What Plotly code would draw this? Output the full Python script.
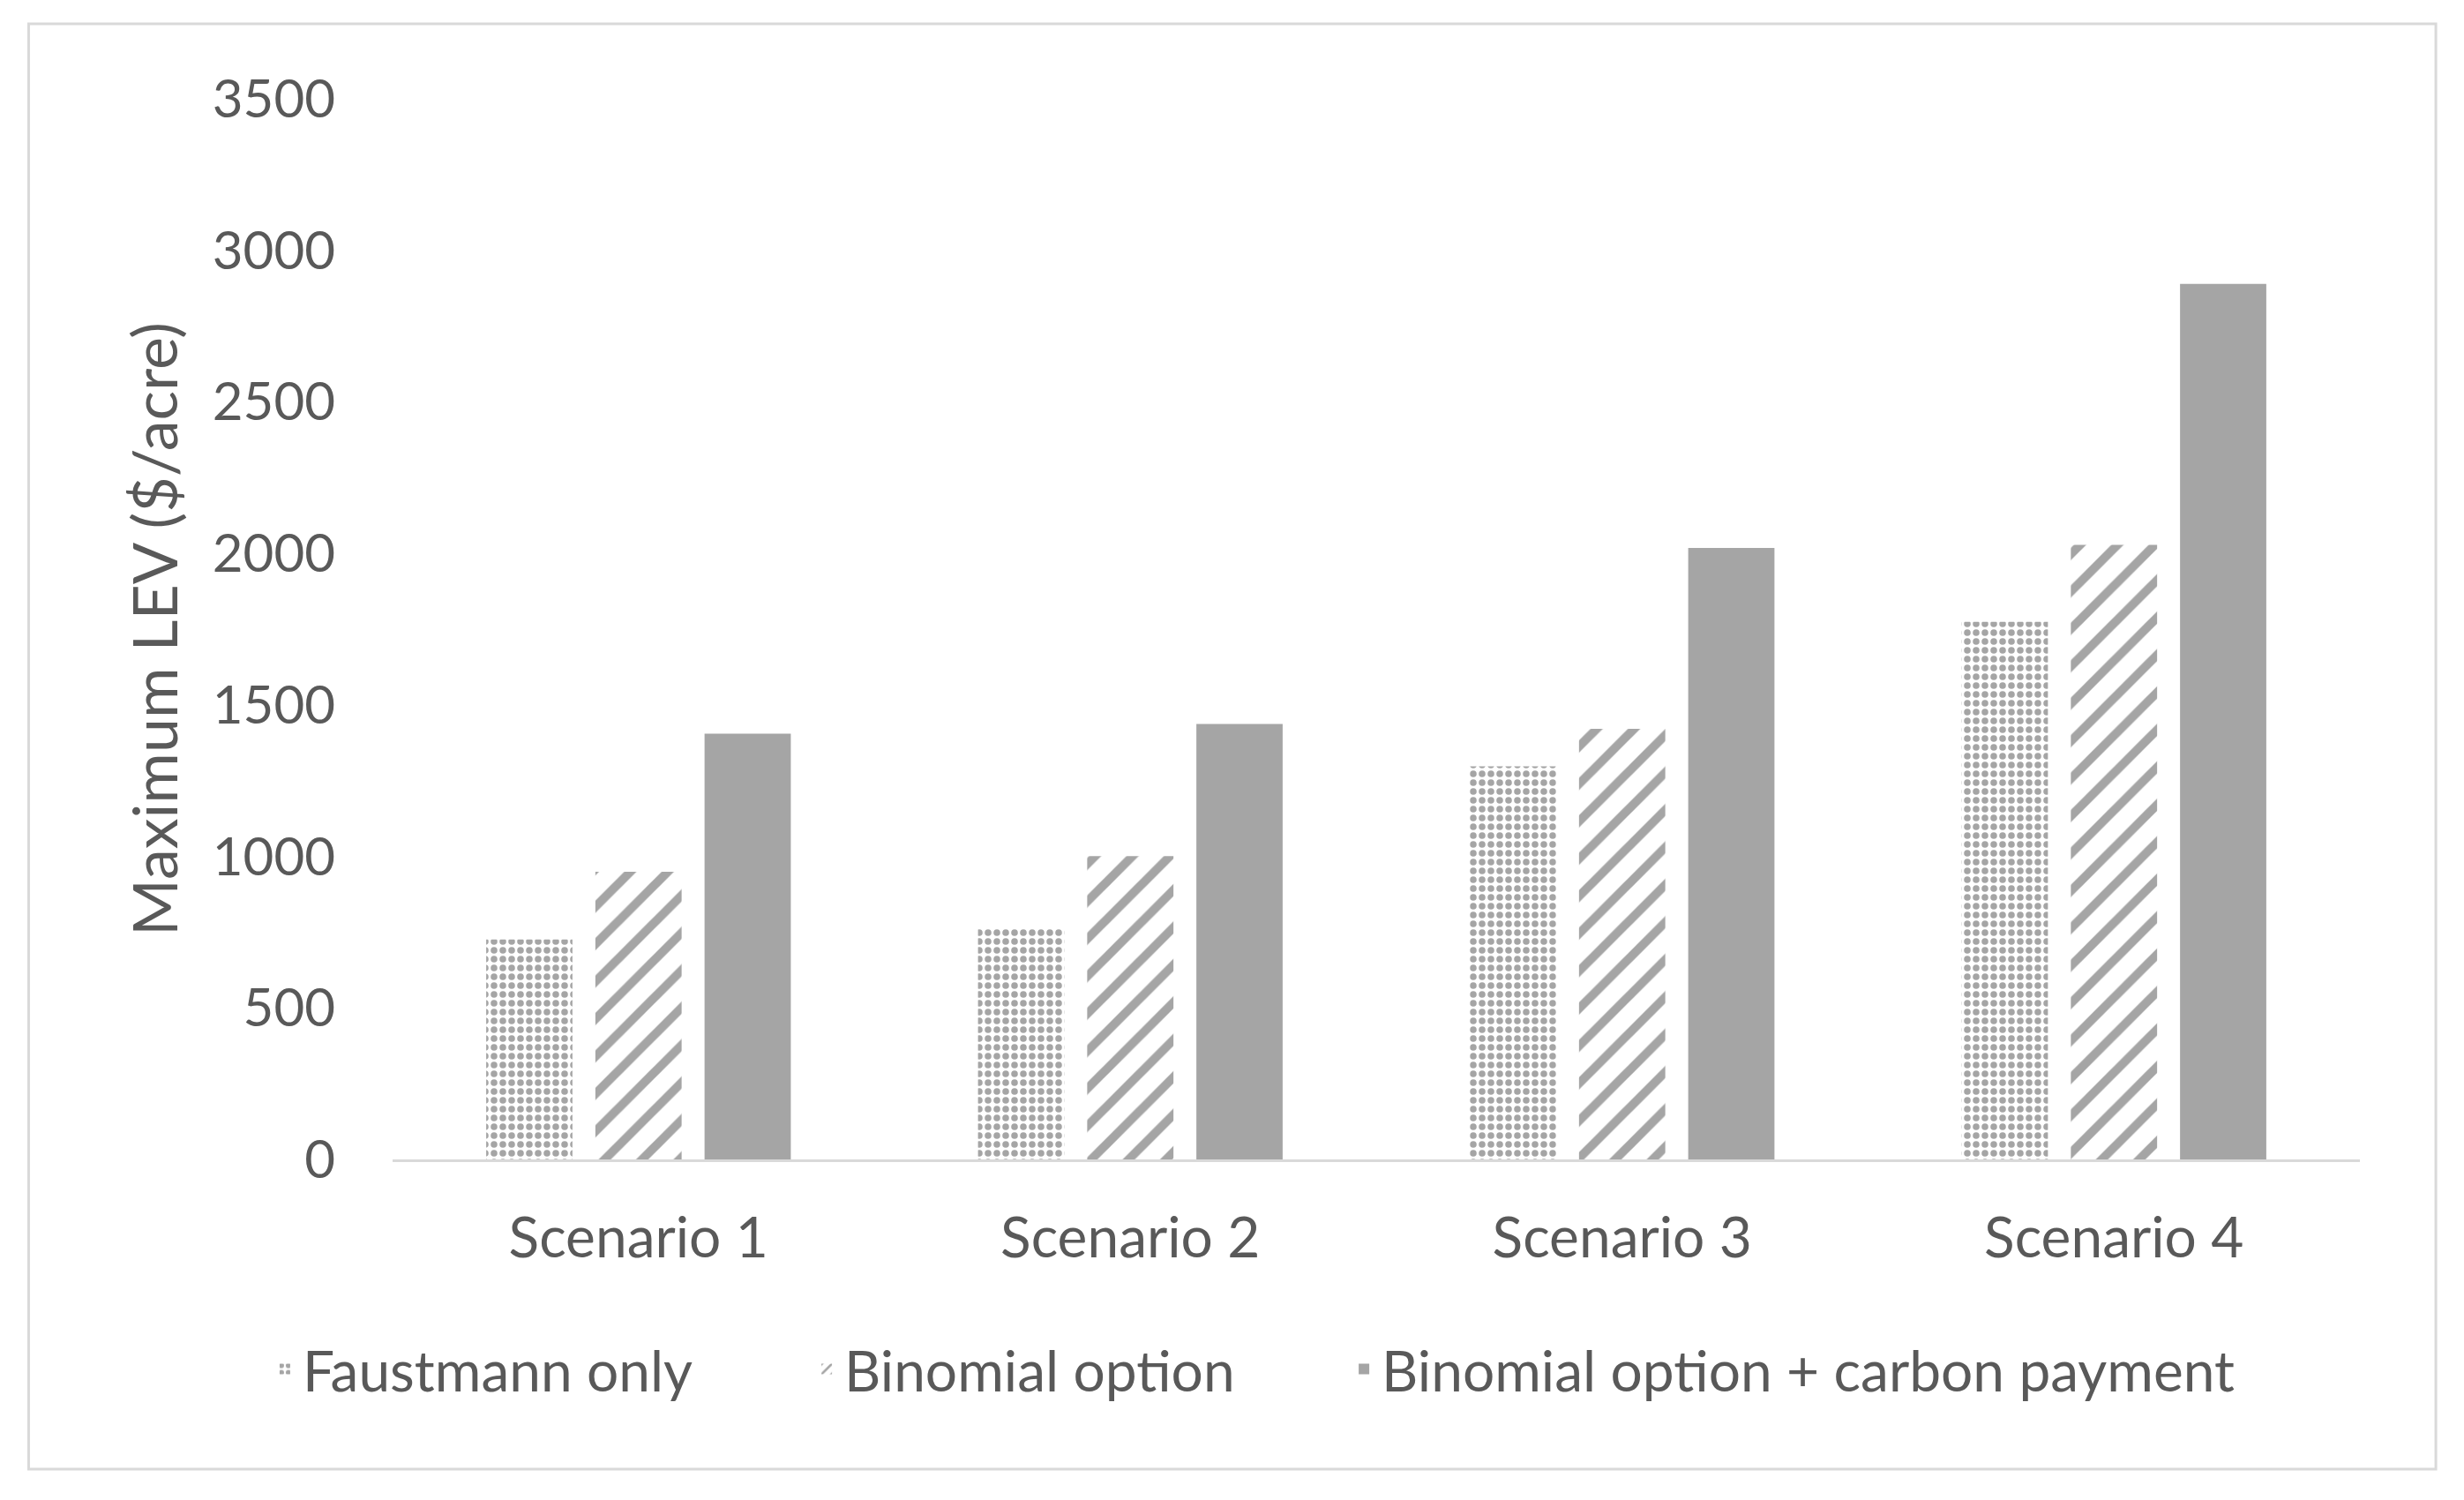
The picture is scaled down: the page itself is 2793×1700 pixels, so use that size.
import plotly.graph_objects as go

categories = ["Scenario 1", "Scenario 2", "Scenario 3", "Scenario 4"]
faustmann = [726, 762, 1297, 1774]
binomial = [949, 1001, 1421, 2028]
binomial_carbon = [1405, 1437, 2018, 2889]
series_names = ["Faustmann only", "Binomial option", "Binomial option + carbon payment"]
y_ticks = [0, 500, 1000, 1500, 2000, 2500, 3000, 3500]

GRAY = "#a5a5a5"
TXT = "#595959"
FONT = "Lato"

fig = go.Figure()
fig.add_trace(go.Bar(
    x=categories, y=faustmann, name=series_names[0], legend="legend",
    marker=dict(color="white", line=dict(width=0),
                pattern=dict(shape=".", fgcolor=GRAY, bgcolor="white", size=10, solidity=0.45, fillmode="replace")),
))
fig.add_trace(go.Bar(
    x=categories, y=binomial, name=series_names[1], legend="legend2",
    marker=dict(color="white", line=dict(width=0),
                pattern=dict(shape="/", fgcolor=GRAY, bgcolor="white", size=30, solidity=0.33, fillmode="replace")),
))
fig.add_trace(go.Bar(
    x=categories, y=binomial_carbon, name=series_names[2], legend="legend3",
    marker=dict(color=GRAY, line=dict(width=0)),
))

def leg(x):
    return dict(orientation="h", x=x, xanchor="left", y=-0.198, yanchor="middle",
                font=dict(family=FONT, size=64, color=TXT), itemwidth=30,
                bgcolor="rgba(0,0,0,0)")

fig.update_layout(
    width=2793, height=1700,
    paper_bgcolor="white", plot_bgcolor="white",
    margin=dict(l=437, r=126, t=104, b=394),
    barmode="group", bargap=0.334, bargroupgap=0.21,
    font=dict(family=FONT, size=60, color=TXT),
    showlegend=True,
    legend=leg(-0.0637),
    legend2=leg(0.2117),
    legend3=leg(0.4848),
    xaxis=dict(showgrid=False, showline=True, linecolor="#d9d9d9", linewidth=3,
               ticks="", tickfont=dict(family=FONT, size=64, color=TXT), ticklabelstandoff=31),
    yaxis=dict(range=[0, 3500], tickvals=y_ticks, showgrid=False, showline=False, zeroline=False,
               ticks="", tickfont=dict(family=FONT, size=60, color=TXT), ticklabelstandoff=64,
               title=dict(text="Maximum LEV ($/acre)", font=dict(family=FONT, size=70, color=TXT), standoff=16)),
    shapes=[dict(type="rect", xref="paper", yref="paper",
                 x0=-0.185, x1=1.0386, y0=-0.292, y1=1.0707,
                 line=dict(color="#d9d9d9", width=3), fillcolor="rgba(0,0,0,0)", layer="below")],
)

fig.write_html("out.html")
